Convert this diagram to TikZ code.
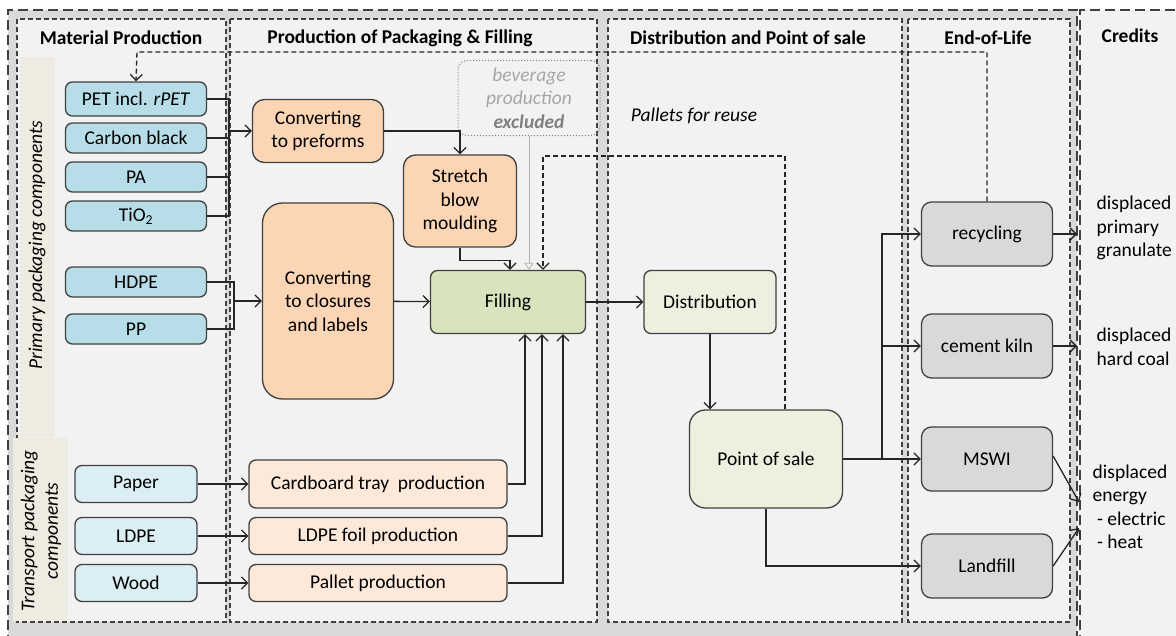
\documentclass[tikz,border=0pt]{standalone}
\usepackage{fontspec}
\setmainfont{Carlito}
\usetikzlibrary{positioning,arrows.meta}

\definecolor{outergray}{HTML}{D9D9D9}
\definecolor{panelfill}{HTML}{F2F2F2}
\definecolor{stripfill}{HTML}{EEECE1}
\definecolor{boxline}{HTML}{404040}
\definecolor{linkline}{HTML}{262626}
\definecolor{matblue}{HTML}{B7DEE8}
\definecolor{transblue}{HTML}{DBEEF4}
\definecolor{procorange}{HTML}{FCD5B5}
\definecolor{tprocorange}{HTML}{FDE9D9}
\definecolor{fillgreen}{HTML}{D7E4BD}
\definecolor{distgreen}{HTML}{EBF1DE}
\definecolor{eolgray}{HTML}{D9D9D9}

\begin{document}
\fontsize{19.5}{23.5}\selectfont
\begin{tikzpicture}[x=1pt,y=-1pt,
    >={Straight Barb[length=6pt,width=12pt]},
    box/.style={draw=boxline,line width=1.3pt,rounded corners=7pt,align=center,inner sep=0pt},
    mat node/.style={box,fill=matblue,minimum width=141pt,minimum height=30pt},
    trans node/.style={box,fill=transblue,minimum width=122pt,minimum height=37pt},
    proc node/.style={box,fill=procorange,rounded corners=12pt},
    tproc node/.style={box,fill=tprocorange,minimum width=258pt,minimum height=37pt},
    eol node/.style={box,fill=eolgray,rounded corners=10pt,minimum width=131pt,minimum height=64pt},
    head/.style={font=\bfseries},
    panel/.style={draw=boxline,fill=panelfill,line width=1.2pt,dash pattern=on 5pt off 3pt},
    outer/.style={draw=boxline,line width=1.6pt,dash pattern=on 10pt off 5pt},
    link/.style={->,draw=linkline,line width=1.3pt},
    loop link/.style={link,dash pattern=on 5pt off 3pt},
    credit/.style={align=left,anchor=west}]

        \useasboundingbox (0,0) rectangle (1176,635);

        % Frames
        \fill[outergray] (8,10) rectangle (1077,645);
        \draw[outer] (8,645) -- (8,10) -- (1077,10) -- (1077,645);
        \fill[panelfill] (1080,10) rectangle (1190,645);
        \draw[outer] (1080,645) -- (1080,10) -- (1190,10);
        \draw[panel] (17,19) rectangle (226,622);
        \draw[panel] (230,19) rectangle (597,622);
        \draw[panel] (608,19) rectangle (902,622);
        \draw[panel] (908,19) rectangle (1070,622);
        \fill[stripfill] (20,57) rectangle (55,437);
        \fill[stripfill] (13,438) rectangle (68,621);

        % Headers
        \node[head] (hmat) at (121,38) {Material Production};
        \node[head] (hpack) at (400,38) {Production of Packaging \& Filling};
        \node[head] (hdist) at (748,38) {Distribution and Point of sale};
        \node[head] (heol) at (988,38) {End-of-Life};
        \node[head] (hcred) at (1130,36) {Credits};
        \node[rotate=90,font=\itshape] (primary) at (37,245) {Primary packaging components};
        \node[rotate=90,font=\itshape,align=center] (transport) at (41,531) {Transport packaging\\components};

        % Define vertices
        \node[mat node,minimum height=34pt] (pet) at (136,99) {PET incl. \textit{rPET}};
        \node[mat node] (carbon) [below of=pet,node distance=39pt] {Carbon black};
        \node[mat node] (pa) [below of=carbon,node distance=39pt] {PA};
        \node[mat node] (tio) [below of=pa,node distance=39pt] {TiO\textsubscript{2}};
        \node[mat node] (hdpe) [below of=tio,node distance=66pt] {HDPE};
        \node[mat node] (pp) [below of=hdpe,node distance=47pt] {PP};
        \node[trans node] (paper) at (136,484) {Paper};
        \node[trans node] (ldpe) [below of=paper,node distance=52pt] {LDPE};
        \node[trans node] (wood) [below of=ldpe,node distance=47pt] {Wood};

        \node[proc node,minimum width=131pt,minimum height=63pt] (preforms) at (318,131) {Converting\\to preforms};
        \node[proc node,minimum width=113pt,minimum height=92pt] (stretch) at (460,201) {Stretch\\blow\\moulding};
        \node[proc node,minimum width=131pt,minimum height=196pt,rounded corners=20pt] (closures) at (328,301) {Converting\\to closures\\and labels};
        \node[tproc node,minimum height=48pt] (tray) at (378,484) {Cardboard tray~~production};
        \node[tproc node] (foil) [below of=tray,node distance=52pt] {LDPE foil production};
        \node[tproc node] (pallet) [below of=foil,node distance=47pt] {Pallet production};
        \node[box,fill=fillgreen,minimum width=155pt,minimum height=63pt] (filling) at (508,302) {Filling};
        \node[box,draw=gray,line width=1pt,dotted,fill=none,minimum width=142pt,minimum height=75pt,
              text=gray!70,font=\itshape,rounded corners=9pt] (bev) at (529,98) {beverage\\production\\\textcolor{gray}{\textbf{excluded}}};

        \node[box,fill=distgreen,minimum width=132pt,minimum height=63pt] (dist) at (710,302) {Distribution};
        \node[box,fill=distgreen,minimum width=153pt,minimum height=98pt,rounded corners=16pt] (posale) at (766,459) {Point of sale};
        \node[font=\itshape] (reusetext) at (694,116) {Pallets for reuse};

        \node[eol node] (recycling) at (987,234) {recycling};
        \node[eol node] (kiln) at (987,346) {cement kiln};
        \node[eol node] (mswi) at (987,459) {MSWI};
        \node[eol node] (landfill) at (987,566) {Landfill};

        \node[credit] (granulate) at (1090,228) {displaced\\primary\\granulate};
        \node[credit] (coal) at (1090,347) {displaced\\hard coal};
        \node[credit] (energy) at (1086,507) {displaced\\energy\\ \ - electric\\ \ - heat};

        \coordinate (bus1) at (229,131);
        \coordinate (bus2) at (234,301);
        \coordinate (eolbus) at (882,459);
        \coordinate (back) at (137,52);
        \coordinate (reuse) at (543,156);
        \coordinate (cr1) at (1077,234);
        \coordinate (cr2) at (1077,346);
        \coordinate (cr3) at (1079,502);
        \coordinate (cr4) at (1079,528);

        % Draw edges
        \draw[link,-] (pet.east) -| (bus1);
        \draw[link,-] (carbon.east) -| (bus1);
        \draw[link,-] (pa.east) -| (bus1);
        \draw[link,-] (tio.east) -| (bus1);
        \draw[link] (bus1) -- (preforms.west);
        \draw[link,-] (hdpe.east) -| (bus2);
        \draw[link,-] (pp.east) -| (bus2);
        \draw[link] (bus2) -- (closures.west);
        \draw[link] (paper) -- (tray);
        \draw[link] (ldpe) -- (foil);
        \draw[link] (wood) -- (pallet);

        \draw[link] (preforms.east) -| (stretch.north);
        \draw[link] (stretch.south) -- ++(0,13) -| ([xshift=2pt]filling.north);
        \draw[link] (closures) -- (filling);
        \draw[gray!60,line width=0.8pt,-{Triangle[open,length=7pt,width=9pt]}] (bev.south) -- ([xshift=21pt]filling.north);
        \draw[link] (tray.east) -| ([xshift=17pt]filling.south);
        \draw[link] (foil.east) -| ([xshift=34pt]filling.south);
        \draw[link] (pallet.east) -| ([xshift=55pt]filling.south);
        \draw[link] (filling) -- (dist);
        \draw[link] (dist.south) -- (dist.south |- posale.north);

        \draw[link,-] (posale.east) -- (eolbus);
        \draw[link] (eolbus) |- (recycling.west);
        \draw[link] (eolbus) |- (kiln.west);
        \draw[link] (eolbus) -- (mswi.west);
        \draw[link] (posale.south) |- (landfill.west);

        \draw[link] (recycling.east) -- (cr1);
        \draw[link] (kiln.east) -- (cr2);
        \draw[link] ([yshift=3pt]mswi.east) -- (cr3);
        \draw[link] (landfill.east) -- (cr4);

        \draw[loop link] (recycling.north) |- (back) -- (pet.north);
        \draw[loop link] ([xshift=19pt]posale.north) |- (reuse) -- ([xshift=35pt]filling.north);

\end{tikzpicture}
\end{document}
